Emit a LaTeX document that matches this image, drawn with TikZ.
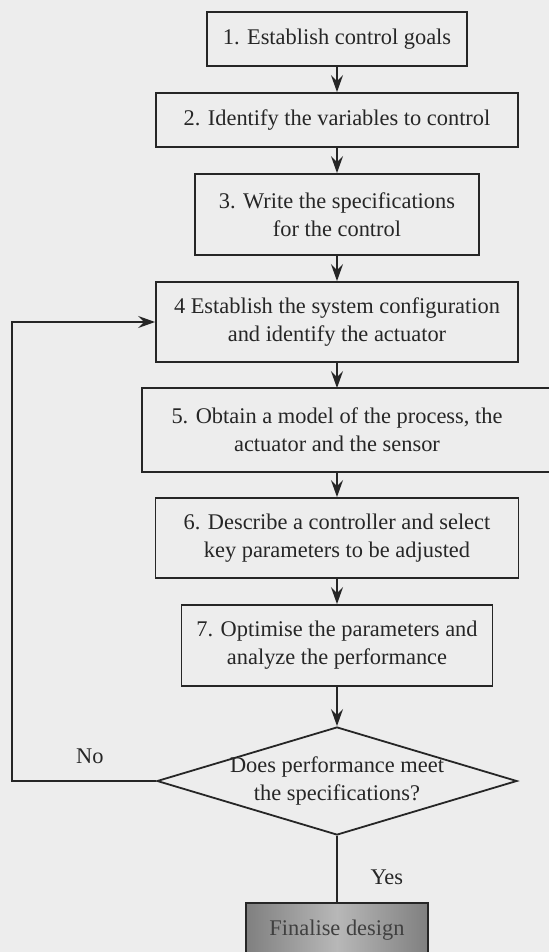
\documentclass[tikz,border=0pt]{standalone}
\usepackage{fontspec}
\setmainfont{Liberation Serif}
\usetikzlibrary{shapes.geometric, arrows.meta, positioning}

\begin{document}
\begin{tikzpicture}[
  font=\fontsize{11.2}{14}\selectfont, color=black!85, line width=0.9pt,
  box/.style={draw, rectangle, minimum height=27pt, align=center, inner sep=2pt},
  tallbox/.style={box, minimum height=40.5pt},
  decision/.style={draw, diamond, aspect=3.33, minimum width=180pt, minimum height=54pt, inner sep=-1.5pt, align=center},
  endbox/.style={box, left color=black!50, right color=black!50, middle color=black!28, text=black!75},
  arrow/.style={->, >={Stealth[length=8.5pt, width=6pt, inset=3pt]}}
]
  \fill[black!7] (-168.5pt,19.5pt) rectangle (106pt,-456.5pt);
  \useasboundingbox (-168.5pt,19.5pt) rectangle (106pt,-456.5pt);

  \node (goals) [box, minimum width=130pt] {1. Establish control goals};
  \node (vars) [box, minimum width=181pt, below=12.6pt of goals] {2. Identify the variables to control};
  \node (specs) [tallbox, minimum width=142pt, below=12.6pt of vars] {3. Write the specifications\\for the control};
  \node (config) [tallbox, minimum width=181pt, minimum height=40pt, below=12.6pt of specs] {4 Establish the system configuration\\and identify the actuator};
  \node (model) [tallbox, draw=none, minimum width=194pt, minimum height=41pt, below=12.6pt of config] {5. Obtain a model of the process, the\\actuator and the sensor};
  \draw (model.south west) rectangle ([xshift=20pt]model.north east);
  \node (tune) [tallbox, minimum width=181.5pt, minimum height=40pt, below=12.6pt of model] {6. Describe a controller and select\\key parameters to be adjusted};
  \node (optim) [tallbox, minimum width=155.5pt, below=12.6pt of tune] {7. Optimise the parameters and\\analyze the performance};
  \node (check) [decision, below=19.6pt of optim] {Does performance meet\\the specifications?};
  \node (final) [endbox, minimum width=91pt, below=33.1pt of check] {Finalise design};

  \draw [arrow] (goals) -- (vars);
  \draw [arrow] (vars) -- (specs);
  \draw [arrow] (specs) -- (config);
  \draw [arrow] (config) -- (model.north -| config.south);
  \draw [arrow] (model.south -| config.south) -- (tune);
  \draw [arrow] (tune) -- (optim);
  \draw [arrow] (optim) -- (check);
  \draw (check) -- node[right=13pt, pos=0.62] {Yes} (final);
  \draw [arrow] (check.west) -- node[above=5pt, pos=0.46] {No} ++(-72pt,0) |- (config.west);
\end{tikzpicture}
\end{document}
